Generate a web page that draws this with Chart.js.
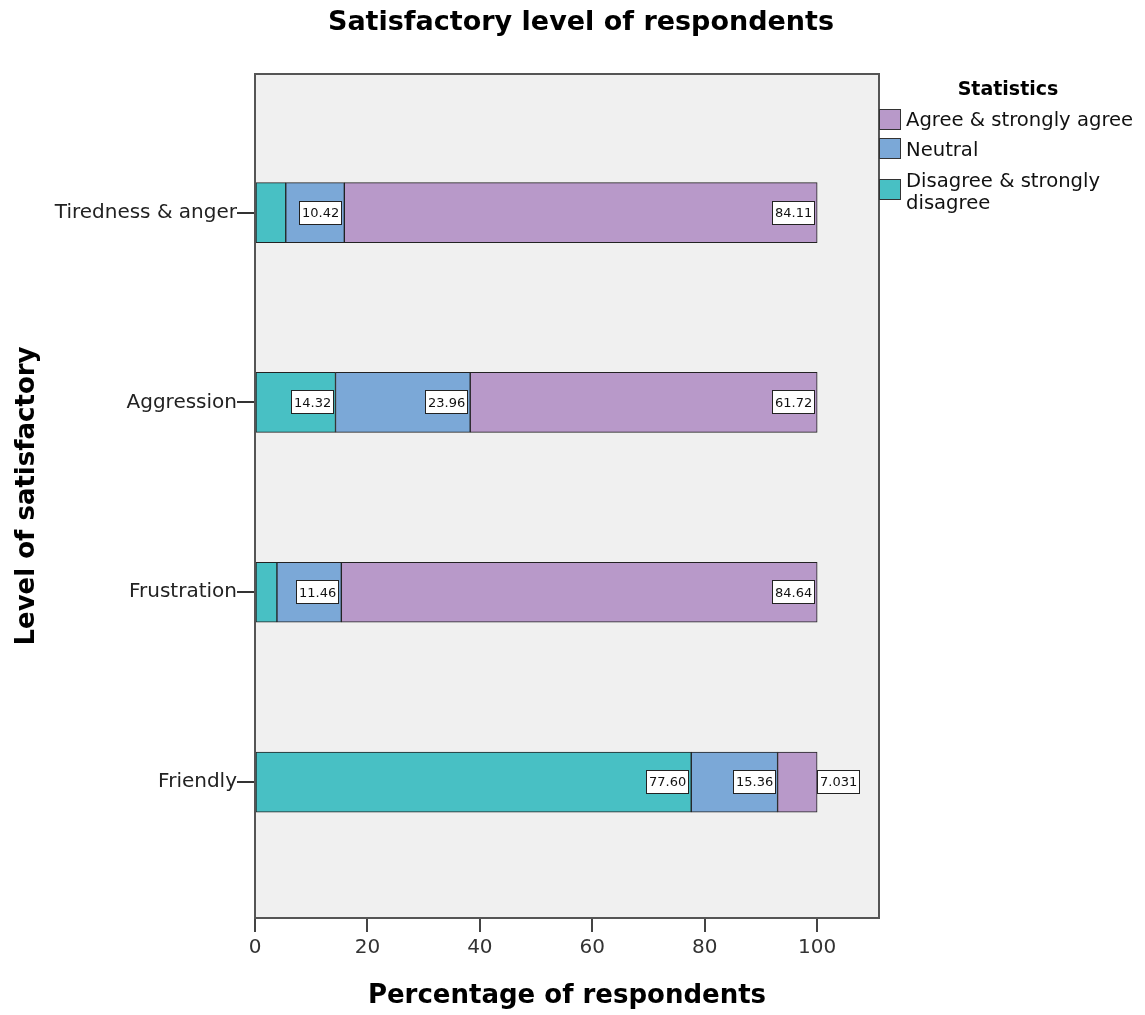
<!DOCTYPE html>
<html>
<head>
<meta charset="utf-8">
<title>Satisfactory level of respondents</title>
<script src="https://cdn.jsdelivr.net/npm/chart.js@4"></script>
<style>
  html, body { margin: 0; padding: 0; background: #ffffff; }
  #wrap { width: 1145px; height: 1015px; }
</style>
</head>
<body>
<div id="wrap"><canvas id="chart" width="1145" height="1015"></canvas></div>
<script>
// Response categories, top to bottom
const categories = ['Tiredness & anger', 'Aggression', 'Frustration', 'Friendly'];

// Percentage of respondents per answer group
const disagreeValues = [5.47, 14.32, 3.90, 77.60];
const neutralValues  = [10.42, 23.96, 11.46, 15.36];
const agreeValues    = [84.11, 61.72, 84.64, 7.031];

const seriesNames = ['Disagree & strongly disagree', 'Neutral', 'Agree & strongly agree'];
const seriesColors = ['#48c0c4', '#7ba8d7', '#b899c9'];

// x-axis tick values
const xTicks = [0, 20, 40, 60, 80, 100];

const chartTitle = 'Satisfactory level of respondents';

const FONT = '"DejaVu Sans", "Liberation Sans", Arial, sans-serif';

function toPoints(values) {
  return values.map((v, i) => ({ x: v, y: i + 1 }));
}

const datasets = [disagreeValues, neutralValues, agreeValues].map((vals, k) => ({
  label: seriesNames[k],
  data: toPoints(vals),
  backgroundColor: seriesColors[k],
  borderColor: '#222222',
  borderWidth: 1,
  borderSkipped: false,
  barThickness: 60
}));

// Plot background and frame
const frame = {
  id: 'frame',
  beforeDatasetsDraw(chart) {
    const { ctx, chartArea: a } = chart;
    ctx.save();
    ctx.fillStyle = '#f0f0f0';
    ctx.fillRect(a.left, a.top, a.right - a.left, a.bottom - a.top);
    ctx.restore();
  },
  afterDatasetsDraw(chart) {
    const { ctx, chartArea: a } = chart;
    ctx.save();
    ctx.strokeStyle = '#555555';
    ctx.lineWidth = 2;
    ctx.strokeRect(a.left, a.top, a.right - a.left, a.bottom - a.top);
    ctx.restore();
  }
};

// Heading centred over the whole figure
const heading = {
  id: 'heading',
  afterDraw(chart) {
    const { ctx } = chart;
    ctx.save();
    ctx.fillStyle = '#000000';
    ctx.font = 'bold 27px ' + FONT;
    ctx.textAlign = 'center';
    ctx.textBaseline = 'middle';
    ctx.fillText(chartTitle, 581, 23);
    ctx.restore();
  }
};

// Boxed value labels at the end of each segment
const valueLabels = {
  id: 'valueLabels',
  afterDatasetsDraw(chart) {
    const { ctx } = chart;
    ctx.save();
    ctx.font = '13px ' + FONT;
    ctx.textBaseline = 'middle';
    ctx.textAlign = 'left';
    chart.data.datasets.forEach((ds, di) => {
      const meta = chart.getDatasetMeta(di);
      meta.data.forEach((bar, i) => {
        const v = ds.data[i].x;
        if (v < 6) return;
        const text = v.toPrecision(4);
        const tw = ctx.measureText(text).width;
        const bw = Math.round(tw + 6);
        const bh = 24;
        const start = Math.min(bar.base, bar.x);
        const end = Math.max(bar.base, bar.x);
        let left;
        if (bw + 4 > end - start) left = end;
        else left = end - 2 - bw;
        const top = Math.round(bar.y - bh / 2);
        left = Math.round(left);
        ctx.fillStyle = '#ffffff';
        ctx.fillRect(left, top, bw, bh);
        ctx.strokeStyle = '#222222';
        ctx.lineWidth = 1;
        ctx.strokeRect(left + 0.5, top + 0.5, bw - 1, bh - 1);
        ctx.fillStyle = '#111111';
        ctx.fillText(text, left + 3, bar.y + 1);
      });
    });
    ctx.restore();
  }
};

// Legend drawn to the right of the plot
const sideLegend = {
  id: 'sideLegend',
  afterDraw(chart) {
    const { ctx, chartArea: a } = chart;
    const x0 = a.right;
    ctx.save();
    ctx.fillStyle = '#000000';
    ctx.textBaseline = 'middle';
    ctx.textAlign = 'center';
    ctx.font = 'bold 19px ' + FONT;
    ctx.fillText('Statistics', 1008, 90);

    const items = [
      { idx: 2, sy: 109, lines: ['Agree & strongly agree'], ty: [121] },
      { idx: 1, sy: 138, lines: ['Neutral'], ty: [151] },
      { idx: 0, sy: 179, lines: ['Disagree & strongly', 'disagree'], ty: [182, 204] }
    ];
    ctx.font = '19.6px ' + FONT;
    ctx.textAlign = 'left';
    items.forEach(it => {
      const ds = chart.data.datasets[it.idx];
      ctx.fillStyle = ds.backgroundColor;
      ctx.fillRect(x0, it.sy, 22, 21);
      ctx.strokeStyle = '#333333';
      ctx.lineWidth = 1;
      ctx.strokeRect(x0 + 0.5, it.sy + 0.5, 21, 20);
      ctx.fillStyle = '#111111';
      it.lines.forEach((ln, j) => ctx.fillText(ln, x0 + 27, it.ty[j]));
    });
    ctx.restore();
  }
};

new Chart(document.getElementById('chart'), {
  type: 'bar',
  data: { datasets },
  plugins: [frame, valueLabels, sideLegend, heading],
  options: {
    indexAxis: 'y',
    responsive: false,
    animation: false,
    layout: { padding: { left: 0, right: 266, top: 74, bottom: 0 } },
    plugins: {
      legend: { display: false },
      tooltip: { enabled: false },
      title: { display: false }
    },
    scales: {
      x: {
        type: 'linear',
        stacked: true,
        min: 0,
        max: 111,
        afterBuildTicks(scale) { scale.ticks = xTicks.map(v => ({ value: v })); },
        afterFit(scale) { scale.height = 97; },
        ticks: {
          color: '#333333',
          padding: 4,
          font: { family: FONT, size: 20 }
        },
        grid: { drawOnChartArea: false, drawTicks: true, tickLength: 14, color: '#444444', lineWidth: 2 },
        border: { display: true, color: '#555555', width: 2 },
        title: {
          display: true,
          text: 'Percentage of respondents',
          color: '#000000',
          font: { family: FONT, size: 26, weight: 'bold' },
          padding: { top: 0, bottom: 3 }
        }
      },
      y: {
        type: 'linear',
        stacked: true,
        reverse: true,
        offset: false,
        min: 0.27,
        max: 4.716,
        afterBuildTicks(scale) { scale.ticks = categories.map((c, i) => ({ value: i + 1 })); },
        afterFit(scale) { scale.width = 255; },
        ticks: {
          color: '#222222',
          padding: 0,
          font: { family: FONT, size: 20 },
          callback: (v) => categories[v - 1]
        },
        grid: { offset: false, drawOnChartArea: false, drawTicks: true, tickLength: 18, color: '#333333', lineWidth: 2 },
        border: { display: true, color: '#555555', width: 2 },
        title: {
          display: true,
          text: 'Level of satisfactory',
          color: '#000000',
          font: { family: FONT, size: 26, weight: 'bold' },
          padding: { top: 12, bottom: 0 }
        }
      }
    }
  }
});
</script>
</body>
</html>
